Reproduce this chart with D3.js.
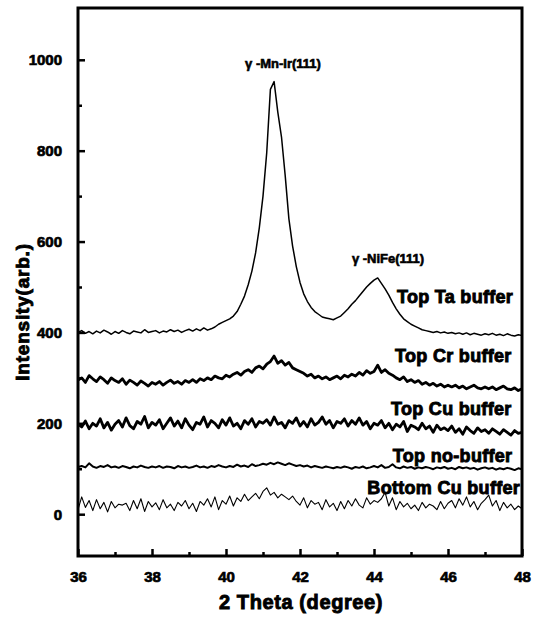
<!DOCTYPE html>
<html>
<head>
<meta charset="utf-8">
<script src="https://cdn.jsdelivr.net/npm/d3@7"></script>
<style>
    body { margin: 0; background: #fff; }
    text { font-family: "Liberation Sans", Arial, sans-serif; font-weight: bold; fill: #000; stroke: #000; }
</style>
</head>
<body>
<script>
// 2 theta grid: 36.0 .. 48.0, step 0.1 deg
var thetaStart = 36, thetaStep = 0.1;

var topTa = [
    400, 404, 398, 402, 397, 403, 399, 405, 401, 396, 402,
    398, 404, 400, 397, 403, 401, 399, 406, 400, 402,
    404, 399, 403, 401, 406, 402, 405, 400, 404, 407,
    403, 408, 404, 410, 405, 408, 412, 418, 422, 426,
    430, 436, 446, 462, 480, 505, 535, 575, 630, 700,
    795, 935, 952, 885, 830, 745, 650, 590, 545, 510,
    485, 468, 455, 446, 440, 434, 432, 430, 428, 432,
    436, 444, 452, 462, 470, 480, 490, 500, 508, 515,
    520, 508, 496, 482, 466, 452, 440, 430, 424, 418,
    414, 410, 406, 404, 402, 400, 402, 399, 401, 398,
    400, 397, 399, 396, 399, 395, 398, 396, 394, 397,
    395, 398, 394, 396, 393, 397, 394, 392, 395, 393
];

var topCr = [
    295, 300, 290, 305, 298, 292, 302, 296, 288, 300, 294,
    290, 298, 286, 295, 290, 284, 293, 288, 282, 290,
    286, 292, 284, 290, 295, 288, 292, 286, 294, 290,
    296, 290, 298, 294, 300, 296, 304, 300, 298, 306,
    302, 308, 312, 306, 314, 318, 312, 322, 326, 320,
    330, 336, 348, 332, 338, 328, 334, 322, 318, 314,
    310, 304, 308, 300, 304, 298, 302, 296, 300, 304,
    298, 306, 302, 308, 304, 312, 306, 316, 310, 314,
    328, 312, 318, 310, 306, 300, 296, 302, 292, 296,
    290, 294, 286, 290, 284, 288, 282, 286, 280, 284,
    280, 284, 278, 282, 276, 280, 284, 278, 276, 280,
    276, 280, 274, 278, 282, 276, 274, 278, 272, 276
];

var topCu = [
    198, 192, 205, 188, 200, 194, 210, 190, 202, 185, 198,
    206, 192, 212, 195, 188, 204, 198, 215, 190, 202,
    196, 208, 188, 200, 212, 194, 205, 190, 210, 196,
    186, 202, 198, 214, 192, 206, 200, 190, 208, 196,
    212, 194, 200, 188, 206, 198, 210, 192, 204, 200,
    208, 196, 214, 198, 202, 190, 206, 200, 212, 194,
    204, 192, 210, 196, 202, 214, 198, 206, 190, 204,
    200, 210, 194, 206, 198, 212, 196, 204, 188, 200,
    196, 206, 190, 200, 186, 198, 192, 204, 182, 196,
    192, 186, 200, 188, 194, 180, 196, 186, 190, 184,
    194, 180, 188, 176, 192, 184, 178, 190, 182, 186,
    178, 188, 182, 176, 186, 180, 174, 184, 178, 180
];

var topNoBuffer = [
    104, 106, 103, 112, 105, 102, 106, 104, 108, 103, 105,
    102, 106, 104, 101, 105, 103, 107, 104, 102, 105,
    103, 106, 102, 105, 104, 101, 106, 103, 105, 102,
    104, 107, 103, 105, 102, 106, 104, 108, 105, 103,
    106, 104, 109, 105, 107, 104, 110, 106, 108, 111,
    109, 113, 110, 114, 111, 108, 112, 109, 106, 108,
    105, 107, 103, 106, 104, 102, 105, 103, 101, 104,
    102, 105, 103, 100, 104, 102, 105, 101, 103, 106,
    103, 108, 102, 104, 110, 103, 101, 105, 102, 104,
    100, 103, 101, 104, 102, 99, 103, 101, 104, 100,
    102, 99, 104, 101, 103, 100, 102, 98, 101, 103,
    100, 102, 98, 101, 99, 102, 100, 97, 101, 99
];

var bottomCu = [
    10, 38, 15, 30, 8, 32, 12, 26, 5, 28, 14,
    22, 20, 24, 8, 30, 12, 34, 6, 28, 16,
    25, 10, 32, 14, 22, 8, 26, 18, 30, 12,
    24, 6, 28, 20, 34, 16, 38, 10, 30, 22,
    40, 18, 36, 28, 44, 30, 38, 46, 34, 50,
    58, 42, 48, 36, 44, 38, 32, 40, 28, 20,
    36, 14, 30, 22, 26, 10, 32, 16, 24, 8,
    28, 12, 30, 18, 34, 20, 14, 36, 22, 30,
    26, 34, 48, 18, 36, 10, 28, 16, 24, 12,
    20, 8, 26, 14, 22, 18, 10, 28, 12, 24,
    30, 14, 34, 20, 38, 16, 28, 10, 24, 32,
    42, 18, 30, 8, 26, 14, 22, 10, 18, 12
];

var seriesNames = ["Top Ta buffer", "Top Cr buffer", "Top Cu buffer", "Top no-buffer", "Bottom Cu buffer"];
var seriesValues = [topTa, topCr, topCu, topNoBuffer, bottomCu];
// label anchor [2theta, intensity] (text start, baseline) for each series name
var labelPos = [[44.62, 465], [44.57, 335], [44.46, 218], [44.51, 115], [43.82, 44]];

var peakLabels = ["\u03b3 -Mn-Ir(111)", "\u03b3 -NiFe(111)"];
var peakPos = [[41.54, 982], [44.38, 553]];

var xTicks = [36, 38, 40, 42, 44, 46, 48];
var yTicks = [0, 200, 400, 600, 800, 1000];

var width = 535, height = 619,
    margin = { top: 8, right: 13, bottom: 63, left: 78 };

var svg = d3.select("body").append("svg")
    .attr("width", width)
    .attr("height", height);

var x = d3.scaleLinear().domain([36, 48]).range([margin.left, width - margin.right]);
var y = d3.scaleLinear().domain([-92, 1114]).range([height - margin.bottom, margin.top]);

svg.append("clipPath").attr("id", "plot-clip")
    .append("rect")
    .attr("x", margin.left).attr("y", margin.top)
    .attr("width", x.range()[1] - margin.left)
    .attr("height", y.range()[0] - margin.top);

var line = d3.line()
    .x((d, i) => x(thetaStart + i * thetaStep))
    .y(d => y(d));

var strokeWidths = [1.5, 2.8, 2.8, 2.0, 1.1];

var plot = svg.append("g").attr("clip-path", "url(#plot-clip)");

seriesValues.forEach(function (values, idx) {
    plot.append("path")
        .datum(values)
        .attr("fill", "none")
        .attr("stroke", "#000")
        .attr("stroke-width", strokeWidths[idx])
        .attr("stroke-linejoin", "round")
        .attr("d", line);
});

seriesNames.forEach(function (name, idx) {
    svg.append("text")
        .attr("x", x(labelPos[idx][0]))
        .attr("y", y(labelPos[idx][1]))
        .attr("font-size", 18)
        .attr("letter-spacing", 0.3)
        .attr("stroke-width", 0.9)
        .text(name);
});

peakLabels.forEach(function (label, idx) {
    plot.append("text")
        .attr("x", x(peakPos[idx][0]))
        .attr("y", y(peakPos[idx][1]))
        .attr("text-anchor", "middle")
        .attr("font-size", 13)
        .attr("stroke-width", 0.6)
        .text(label);
});

// axes, ticks point inward
var xAxis = d3.axisBottom(x).tickValues(xTicks).tickSize(-7).tickPadding(15).tickFormat(d3.format("d"));
var xMinor = d3.axisBottom(x).tickValues([37, 39, 41, 43, 45, 47]).tickSize(-4).tickFormat("");
var yAxis = d3.axisLeft(y).tickValues(yTicks).tickSize(-7).tickPadding(16).tickFormat(d3.format("d"));
var yMinor = d3.axisLeft(y).tickValues([100, 300, 500, 700, 900]).tickSize(-4).tickFormat("");

[xAxis, xMinor].forEach(function (axis) {
    svg.append("g")
        .attr("transform", "translate(0," + y.range()[0] + ")")
        .call(axis);
});
[yAxis, yMinor].forEach(function (axis) {
    svg.append("g")
        .attr("transform", "translate(" + margin.left + ",0)")
        .call(axis);
});

svg.selectAll(".domain").remove();
svg.selectAll(".tick line").attr("stroke", "#000").attr("stroke-width", 2.5);
svg.selectAll(".tick text")
    .attr("font-size", 15)
    .attr("stroke-width", 0.7)
    .attr("font-family", "'Liberation Sans', Arial, sans-serif");

// frame
svg.append("rect")
    .attr("x", margin.left).attr("y", margin.top)
    .attr("width", x.range()[1] - margin.left)
    .attr("height", y.range()[0] - margin.top)
    .attr("fill", "none")
    .attr("stroke", "#000")
    .attr("stroke-width", 3);

svg.append("text")
    .attr("x", 301)
    .attr("y", 609)
    .attr("text-anchor", "middle")
    .attr("font-size", 20)
    .attr("letter-spacing", 0.6)
    .attr("stroke-width", 0.9)
    .text("2 Theta (degree)");

svg.append("text")
    .attr("transform", "translate(29,312) rotate(-90)")
    .attr("text-anchor", "middle")
    .attr("font-size", 19)
    .attr("letter-spacing", 0.8)
    .attr("stroke-width", 0.9)
    .text("Intensity(arb.)");
</script>
</body>
</html>
